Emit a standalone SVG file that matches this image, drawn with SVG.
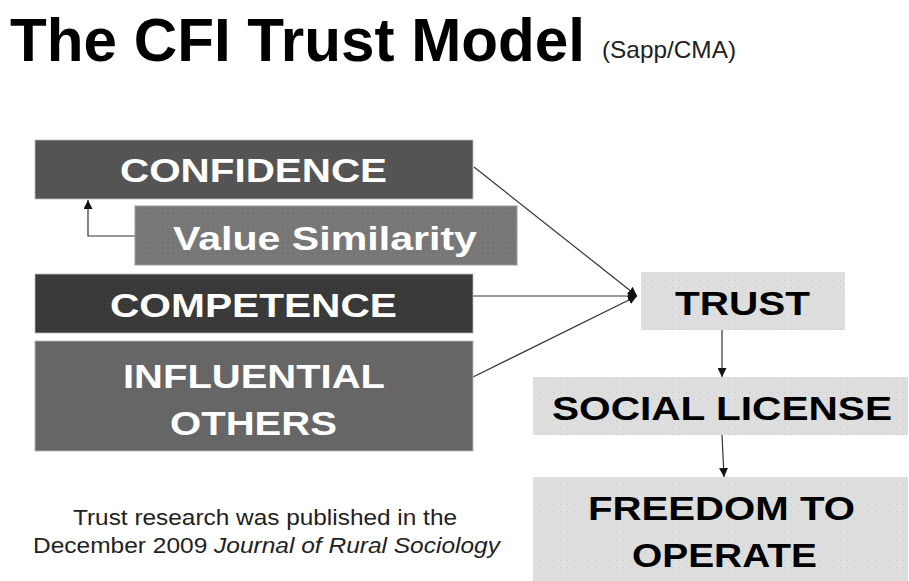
<svg xmlns="http://www.w3.org/2000/svg" width="909" height="581" viewBox="0 0 909 581">
  <style>
    .title { font-family: "Liberation Sans", Arial, sans-serif; font-weight: bold; fill: #000; }
    .sub { font-family: "Liberation Sans", Arial, sans-serif; fill: #222; }
    .lbl { font-family: "Liberation Sans", Arial, sans-serif; font-weight: bold; font-size: 34px; text-anchor: start; }
    .light { fill: #fff; }
    .dark { fill: #000; }
    .note { font-family: "Liberation Sans", Arial, sans-serif; font-size: 22px; fill: #222; }
    .conn { stroke: #333; stroke-width: 1.2; fill: none; }
  </style>
  <defs>
    <marker id="arrow" viewBox="0 0 10 10" refX="10" refY="5" markerWidth="9" markerHeight="9" markerUnits="userSpaceOnUse" orient="auto">
      <path d="M0,0 L10,5 L0,10 z" fill="#111"/>
    </marker>
    <pattern id="dotsDark" width="4" height="4" patternUnits="userSpaceOnUse">
      <rect width="4" height="4" fill="#555"/>
      <rect width="1" height="1" fill="#4c4c4c"/>
    </pattern>
    <pattern id="dotsDarker" width="4" height="4" patternUnits="userSpaceOnUse">
      <rect width="4" height="4" fill="#3a3a3a"/>
      <rect width="1" height="1" fill="#303030"/>
    </pattern>
    <pattern id="dotsMid" width="5" height="5" patternUnits="userSpaceOnUse">
      <rect width="5" height="5" fill="#777"/>
      <rect width="1" height="1" fill="#888"/>
    </pattern>
    <pattern id="dotsLight" width="7" height="7" patternUnits="userSpaceOnUse">
      <rect width="7" height="7" fill="#dedede"/>
      <rect width="1" height="1" fill="#c8c8c8"/>
    </pattern>
  </defs>

  <!-- heading -->
  <text class="title" x="10" y="61" font-size="61" textLength="575" lengthAdjust="spacingAndGlyphs">The CFI Trust Model</text>
  <text class="sub" x="602" y="58" font-size="24" textLength="134" lengthAdjust="spacingAndGlyphs">(Sapp/CMA)</text>

  <!-- connectors -->
  <g id="connectors">
    <line class="conn" x1="474" y1="167" x2="637" y2="296" marker-end="url(#arrow)"/>
    <line class="conn" x1="473" y1="296" x2="637" y2="296" marker-end="url(#arrow)"/>
    <line class="conn" x1="473" y1="377" x2="637" y2="296" marker-end="url(#arrow)"/>
    <polyline class="conn" points="135,236 88,236 88,200" marker-end="url(#arrow)"/>
    <line class="conn" x1="722" y1="330" x2="722" y2="377" marker-end="url(#arrow)"/>
    <line class="conn" x1="722" y1="435" x2="724" y2="477" marker-end="url(#arrow)"/>
  </g>

  <g id="confidence">
    <rect x="35" y="140" width="438" height="59" fill="url(#dotsDark)" stroke="#bbb" stroke-width="0.8"/>
    <text class="lbl light" x="120" y="182" textLength="267" lengthAdjust="spacingAndGlyphs">CONFIDENCE</text>
  </g>

  <g id="value-similarity">
    <rect x="135" y="206" width="382" height="59" fill="url(#dotsMid)" stroke="#999" stroke-width="1"/>
    <text class="lbl light" x="173" y="250" textLength="304" lengthAdjust="spacingAndGlyphs">Value Similarity</text>
  </g>

  <g id="competence">
    <rect x="35" y="274" width="438" height="59" fill="url(#dotsDarker)" stroke="#bbb" stroke-width="0.8"/>
    <text class="lbl light" x="110" y="317" textLength="287" lengthAdjust="spacingAndGlyphs">COMPETENCE</text>
  </g>

  <g id="influential-others">
    <rect x="35" y="341" width="438" height="110" fill="#666" stroke="#bbb" stroke-width="0.8"/>
    <text class="lbl light" x="123" y="388" textLength="262" lengthAdjust="spacingAndGlyphs">INFLUENTIAL</text>
    <text class="lbl light" x="170" y="435" textLength="167" lengthAdjust="spacingAndGlyphs">OTHERS</text>
  </g>

  <g id="trust">
    <rect x="641" y="272" width="204" height="58" fill="url(#dotsLight)"/>
    <text class="lbl dark" x="675" y="315" textLength="135" lengthAdjust="spacingAndGlyphs">TRUST</text>
  </g>

  <g id="social-license">
    <rect x="533" y="377" width="375" height="58" fill="url(#dotsLight)"/>
    <text class="lbl dark" x="552" y="420" textLength="340" lengthAdjust="spacingAndGlyphs">SOCIAL LICENSE</text>
  </g>

  <g id="freedom-to-operate">
    <rect x="533" y="477" width="375" height="104" fill="url(#dotsLight)"/>
    <text class="lbl dark" x="588" y="520" textLength="267" lengthAdjust="spacingAndGlyphs">FREEDOM TO</text>
    <text class="lbl dark" x="632" y="567" textLength="185" lengthAdjust="spacingAndGlyphs">OPERATE</text>
  </g>

  <!-- footnote -->
  <text class="note" x="73" y="525" textLength="384" lengthAdjust="spacingAndGlyphs">Trust research was published in the</text>
  <text class="note" x="33" y="553" textLength="467" lengthAdjust="spacingAndGlyphs">December 2009 <tspan font-style="italic">Journal of Rural Sociology</tspan></text>
</svg>
